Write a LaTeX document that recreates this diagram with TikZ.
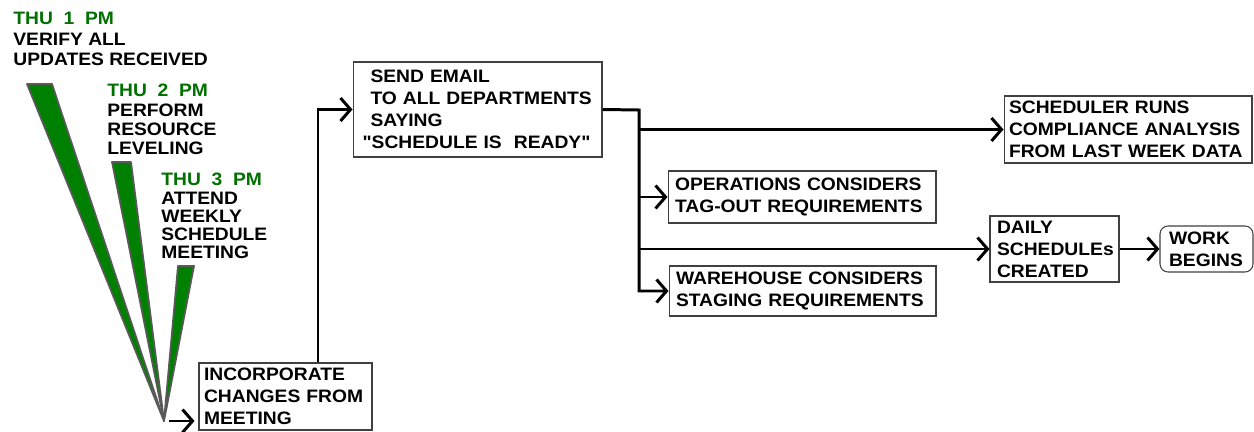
\documentclass[tikz,border=0pt]{standalone}
\usepackage{fontspec}
\defaultfontfeatures[\rmfamily]{}
\setmainfont[FakeStretch=1.07]{Liberation Sans}
\usetikzlibrary{arrows.meta}
\definecolor{wedgegreen}{RGB}{0,128,0}
\definecolor{timegreen}{RGB}{0,112,0}
\newcommand\chartfont[1]{\fontsize{10.25pt}{#1}\selectfont\bfseries\hyphenpenalty=10000}
\tikzset{
  stepbox/.style  = {shape=rectangle, draw=black!75, line width=0.6pt,
                     align=left, inner xsep=0.14cm, inner ysep=0pt,
                     font=\chartfont{12.5pt}},
  startbox/.style = {stepbox, rounded corners=0.16cm, inner xsep=0.18cm},
  note/.style     = {anchor=north west, inner sep=0pt, align=left},
  wedge/.style    = {fill=wedgegreen, draw=black!65, line width=1pt,
                     line join=round},
  flow/.style     = {line width=1.7pt,
                     -{Straight Barb[length=0.2cm, width=0.46cm]}}
}

\begin{document}
\begin{tikzpicture}[x=0.02cm, y=-0.02cm]
    \useasboundingbox (0,0) rectangle (1254,432);

    \coordinate (apex) at (164,421);
    \draw[wedge] (27,84) -- (52,84) -- (apex) -- cycle;
    \draw[wedge] (112,162) -- (131,162) -- (apex) -- cycle;
    \draw[wedge] (178,266) -- (194,266) -- (apex) -- cycle;

    \node[note, font=\chartfont{11.6pt}] (verify) at (13,12)
        {\textcolor{timegreen}{THU\ \ 1\ \ PM}\\VERIFY ALL\\UPDATES RECEIVED};
    \node[note, font=\chartfont{10.9pt}] (level) at (107,84)
        {\textcolor{timegreen}{THU\ \ 2\ \ PM}\\PERFORM\\RESOURCE\\LEVELING};
    \node[note, font=\chartfont{10.3pt}] (meet) at (161,173)
        {\textcolor{timegreen}{THU\ \ 3\ \ PM}\\ATTEND\\WEEKLY\\SCHEDULE\\MEETING};

    \node[stepbox, inner xsep=0.1cm, text width=3.26cm, minimum height=1.34cm] (incorp) at (285.5,396.5)
        {INCORPORATE\\CHANGES FROM\\MEETING};
    \node[stepbox, inner xsep=0.19cm, text width=4.6cm, minimum height=1.90cm] (email) at (477.5,109.5)
        {\hspace{0.16cm}SEND EMAIL\\\hspace{0.16cm}TO ALL DEPARTMENTS\\\hspace{0.16cm}SAYING\\"SCHEDULE IS\ \ READY"};
    \node[stepbox, inner xsep=0.1cm, text width=4.76cm, minimum height=1.34cm] (sched) at (1128,129.5)
        {SCHEDULER RUNS\\COMPLIANCE ANALYSIS\\FROM LAST WEEK DATA};
    \node[stepbox, text width=5.08cm, minimum height=1.04cm] (ops) at (802,197)
        {OPERATIONS CONSIDERS\\TAG-OUT REQUIREMENTS};
    \node[stepbox, text width=5.06cm, minimum height=1.00cm] (ware) at (802.5,291)
        {WAREHOUSE CONSIDERS\\STAGING REQUIREMENTS};
    \node[stepbox, text width=2.30cm, minimum height=1.32cm] (daily) at (1054.5,249)
        {DAILY\\SCHEDULEs\\CREATED};
    \node[startbox, text width=1.5cm, minimum height=0.92cm] (work) at (1206.5,249)
        {WORK\\BEGINS};

    \coordinate (fork) at (639,110);
    \draw[flow, shorten >=0.08cm] (apex) ++(5,0) -- (apex -| incorp.west);
    \draw[flow] (incorp.north) ++(32.5,0) |- (email.west);
    \draw[flow] (email.east) -- (fork) |- (ware.west);
    \draw[flow] (fork |- sched.west) -- (sched.west);
    \draw[flow] (fork |- ops.west) -- (ops.west);
    \draw[flow] (fork |- daily.west) -- (daily.west);
    \draw[flow] (daily.east) -- (work.west);

\end{tikzpicture}
\end{document}
